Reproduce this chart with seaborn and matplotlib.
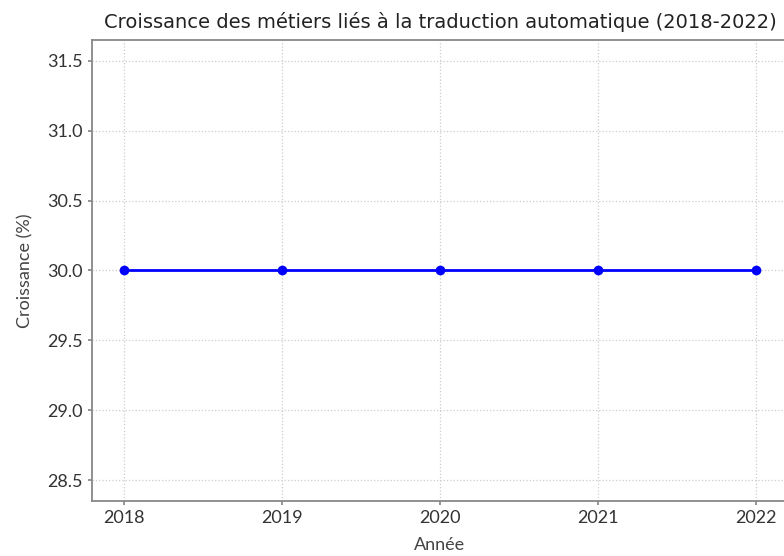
import matplotlib
matplotlib.use("Agg")
import matplotlib.pyplot as plt
import seaborn as sns
import pandas as pd

# data
annees = [2018, 2019, 2020, 2021, 2022]
croissance = [30.0, 30.0, 30.0, 30.0, 30.0]

sns.set_theme(style="white")
plt.rcParams['font.family'] = ['Lato', 'DejaVu Sans']

df = pd.DataFrame({"Année": annees, "Croissance (%)": croissance})

fig = plt.figure(figsize=(7.84, 5.56), dpi=100)
ax = fig.add_axes([0.1173, 0.099, 0.8878, 0.829])

sns.lineplot(data=df, x="Année", y="Croissance (%)", ax=ax,
             color="blue", linewidth=2.0, marker="o", markersize=7,
             markeredgewidth=0)

ax.set_xticks(annees)
ax.set_xticklabels([str(a) for a in annees])
ax.margins(x=0.05)

ax.grid(True, linestyle=":", color="#cccccc", linewidth=0.9)
for s in ax.spines.values():
    s.set_color("#888888")
    s.set_linewidth(1.3)
ax.tick_params(axis="both", labelsize=13, colors="#333333", length=3,
               color="#888888", left=True, bottom=True)
ax.tick_params(axis="both", labelcolor="#333333")

ax.set_title("Croissance des métiers liés à la traduction automatique (2018-2022)",
             fontsize=14, color="#222222", pad=9,
             family=['DejaVu Sans'])
ax.set_xlabel("Année", fontsize=13, color="#444444", labelpad=8)
ax.set_ylabel("Croissance (%)", fontsize=13, color="#444444", labelpad=10)

fig.savefig("out.png", dpi=100)
